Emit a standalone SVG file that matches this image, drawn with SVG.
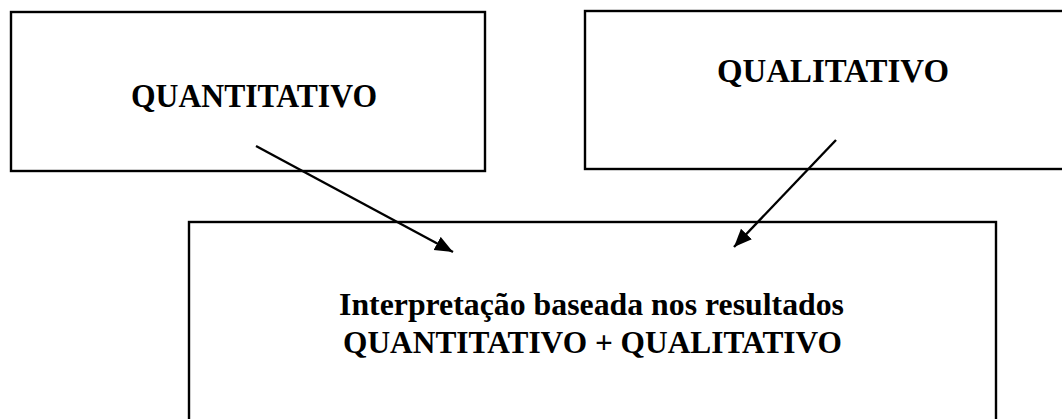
<svg xmlns="http://www.w3.org/2000/svg" width="1062" height="419" viewBox="0 0 1062 419">
  <style>
    .box { fill: #ffffff; stroke: #000000; stroke-width: 2.4; }
    .lbl { font-family: "Liberation Serif", "Times New Roman", serif; font-weight: bold; fill: #000000; }
    .top { font-size: 34px; }
    .bottom { font-size: 31px; }
    .conn { stroke: #000000; stroke-width: 2.4; fill: none; }
  </style>
  <defs>
    <marker id="arrow" markerUnits="userSpaceOnUse" markerWidth="20" markerHeight="16" refX="18" refY="7.5" orient="auto">
      <path d="M0,0 L18,7.5 L0,15 Z" fill="#000000"/>
    </marker>
  </defs>
  <rect width="1062" height="419" fill="#ffffff"/>
  <g id="node-quantitativo">
    <rect class="box" x="11" y="12" width="474" height="159"/>
    <text class="lbl top" x="131" y="107" textLength="246" lengthAdjust="spacingAndGlyphs">QUANTITATIVO</text>
  </g>
  <g id="node-qualitativo">
    <rect class="box" x="585" y="11" width="490" height="158"/>
    <text class="lbl top" x="717" y="82" textLength="232" lengthAdjust="spacingAndGlyphs">QUALITATIVO</text>
  </g>
  <g id="node-interpretacao">
    <rect class="box" x="189" y="222" width="807" height="210"/>
    <text class="lbl bottom" x="339" y="315" textLength="505" lengthAdjust="spacingAndGlyphs">Interpretação baseada nos resultados</text>
    <text class="lbl bottom" x="343" y="353" textLength="499" lengthAdjust="spacingAndGlyphs">QUANTITATIVO + QUALITATIVO</text>
  </g>
  <g id="connectors">
    <line class="conn" x1="256" y1="146" x2="453" y2="252" marker-end="url(#arrow)"/>
    <line class="conn" x1="836" y1="140" x2="734" y2="247" marker-end="url(#arrow)"/>
  </g>
</svg>
